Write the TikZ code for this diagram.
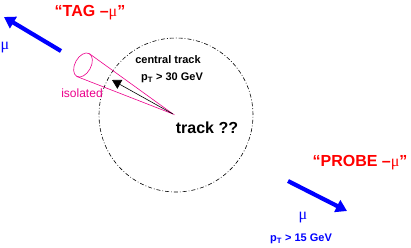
\documentclass[tikz,border=0pt]{standalone}
\usepackage{fontspec}
\setmainfont{Liberation Sans}
\newfontfamily\greekfont{Liberation Serif}
\usetikzlibrary{arrows.meta}
\begin{document}
\begin{tikzpicture}[x=1pt,y=1pt,
  lbl/.style={inner sep=0pt,font=\bfseries},
  bluearrow/.style={draw=blue,line width=4.2pt,-{Triangle[length=11pt,width=13pt]}},
  dashdotcircle/.style={draw=black,line width=0.6pt,dash pattern=on 4pt off 2pt on 0.8pt off 2pt},
  cone/.style={draw=magenta,line width=0.6pt},
  trackarrow/.style={draw=black,line width=0.6pt,-{Triangle[length=9pt,width=10pt]}}]
\useasboundingbox (0,0) rectangle (411,247);
% circle
\node[dashdotcircle,circle,minimum size=154pt,inner sep=0pt] (circ) at (176,132) {};
% cone
\coordinate (apex) at (173,133);
\coordinate (cc) at (83,182);
\coordinate (t1) at (89.7,193.1);
\coordinate (t2) at (77.3,170.3);
\draw[cone] (cc) ellipse [x radius=8, y radius=13, rotate=151.4];
\draw[cone] (t1) -- (apex) -- (t2);
\coordinate (trtip) at (112,167);
\draw[trackarrow] (apex) -- (trtip);
% texts
\node[lbl,text=red,font=\bfseries\fontsize{16}{18}\selectfont] (tag) at (90,234) {“TAG –{\greekfont\mdseries μ}”};
\node[lbl,text=red,font=\bfseries\fontsize{16}{18}\selectfont] (probe) at (360,84) {“PROBE –{\greekfont\mdseries μ}”};
\node[lbl,text=blue,font=\fontsize{16}{18}\selectfont\greekfont] (mu1) at (5,199) {μ};
\node[lbl,text=blue,font=\fontsize{16}{18}\selectfont\greekfont] (mu2) at (303,29) {μ};
\node[lbl,text=blue,font=\bfseries\fontsize{11}{13}\selectfont] (pt15) at (301,8) {p\textsubscript{T} > 15 GeV};
\node[lbl,font=\bfseries\fontsize{11}{13}\selectfont] (central) at (168,187) {central track};
\node[lbl,font=\bfseries\fontsize{11}{13}\selectfont] (pt30) at (172,169) {p\textsubscript{T} > 30 GeV};
\node[lbl,font=\bfseries\fontsize{16}{18}\selectfont] (track) at (207,119) {track ??};
\node[lbl,text=magenta,font=\fontsize{12}{14}\selectfont] (iso) at (82,154) {isolated};
% muon arrows
\coordinate (a1s) at (61,196);
\coordinate (a1e) at (4,230);
\draw[bluearrow] (a1s) -- (a1e);
\coordinate (a2s) at (288,66);
\coordinate (a2e) at (347,36);
\draw[bluearrow] (a2s) -- (a2e);
\end{tikzpicture}
\end{document}
